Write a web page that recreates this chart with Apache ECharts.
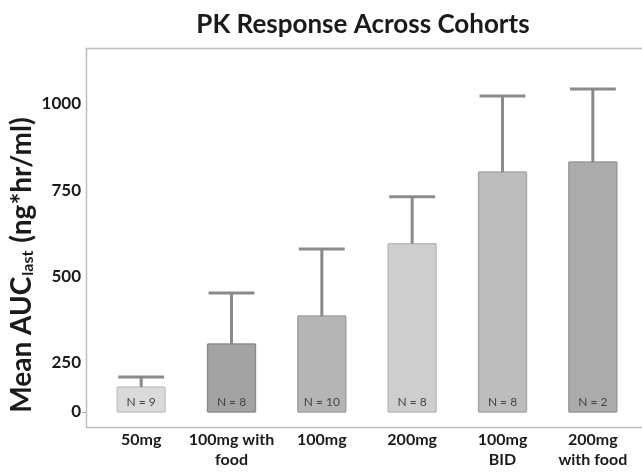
<!DOCTYPE html>
<html>
<head>
<meta charset="utf-8">
<title>PK Response Across Cohorts</title>
<script src="https://cdn.jsdelivr.net/npm/echarts@6/dist/echarts.min.js"></script>
<style>
  html, body { margin: 0; padding: 0; background: #fff; }
  #chart { width: 642px; height: 472px; }
</style>
</head>
<body>
<div id="chart"></div>
<script>
// cohort data (mean and mean + SD, ng*hr/ml)
const categories = ["50mg", "100mg with\nfood", "100mg", "200mg", "100mg\nBID", "200mg\nwith food"];
const meanAUC = [127, 305, 386, 595, 803, 832];
const upperSD = [178, 453, 580, 731, 1023, 1043];
const nSubjects = [9, 8, 10, 8, 8, 2];
const lowerTicks = [0];
const upperTicks = [250, 500, 750, 1000];
// the y axis is broken at 250: 0-250 is squeezed, 250 and up is linear
const axisBreak = 250;

const barColors = ["#dadada", "#a3a3a3", "#b5b5b5", "#cecece", "#bdbdbd", "#ababab"];
const edgeColors = ["#c6c6c6", "#8b8b8b", "#a0a0a0", "#bababa", "#a8a8a8", "#979797"];
const errColor = "#8a8a8a";
const FONT = "Lato, 'Open Sans', sans-serif";
const BAR_RATIO = 0.53;

const chart = echarts.init(document.getElementById("chart"));

const rows = categories.map((c, i) => [i, meanAUC[i], upperSD[i], nSubjects[i]]);

function makeRender(lo, hi, isLower) {
  return function (params, api) {
    const i = api.value(0);
    const mean = api.value(1);
    const upper = api.value(2);
    const n = api.value(3);
    const idx = params.dataIndex;
    const halfW = api.size([1, 0])[0] * BAR_RATIO / 2;
    const cx = api.coord([i, hi])[0];
    const L = cx - halfW, R = cx + halfW;
    const children = [];

    const from = Math.max(0, lo), to = Math.min(mean, hi);
    if (to > from) {
      const yTop = api.coord([i, to])[1];
      const yBot = api.coord([i, from])[1];
      children.push({
        type: "rect",
        shape: { x: L, y: yTop, width: R - L, height: yBot - yTop },
        style: { fill: barColors[idx] }
      });
      const edge = { stroke: edgeColors[idx], lineWidth: 1.5 };
      children.push({ type: "line", shape: { x1: L, y1: yTop, x2: L, y2: yBot }, style: edge });
      children.push({ type: "line", shape: { x1: R, y1: yTop, x2: R, y2: yBot }, style: edge });
      if (mean <= hi) {
        children.push({ type: "line", shape: { x1: L, y1: yTop, x2: R, y2: yTop }, style: edge });
      }
      if (isLower) {
        children.push({ type: "line", shape: { x1: L, y1: yBot, x2: R, y2: yBot }, style: edge });
      }
    }

    const eFrom = Math.max(mean, lo), eTo = Math.min(upper, hi);
    if (eTo > eFrom) {
      const y1 = api.coord([i, eFrom])[1];
      const y2 = api.coord([i, eTo])[1];
      children.push({
        type: "line",
        shape: { x1: cx, y1: y1, x2: cx, y2: y2 },
        style: { stroke: errColor, lineWidth: 3 }
      });
    }
    if (upper > lo && upper <= hi) {
      const yc = api.coord([i, upper])[1];
      children.push({
        type: "line",
        shape: { x1: L + 1, y1: yc, x2: R - 1, y2: yc },
        style: { stroke: errColor, lineWidth: 3 }
      });
    }

    if (isLower) {
      const y0 = api.coord([i, 0])[1];
      children.push({
        type: "text",
        x: cx,
        y: y0 - 10,
        style: {
          text: "N = " + n,
          fill: "#444444",
          font: "12px " + FONT,
          align: "center",
          verticalAlign: "middle"
        }
      });
    }
    return { type: "group", children: children };
  };
}

const UPPER_MAX = 1162;
const LOWER_MIN = -76.5;

const yLabel = {
  margin: 5,
  fontFamily: FONT,
  fontWeight: "bold",
  fontSize: 17,
  color: "#1a1a1a",
  formatter: v => String(v)
};

chart.setOption({
  backgroundColor: "#ffffff",
  animation: false,
  title: {
    text: "PK Response Across Cohorts",
    left: 358,
    top: 7,
    textAlign: "center",
    textStyle: { fontFamily: FONT, fontWeight: "bold", fontSize: 26, color: "#1a1a1a" }
  },
  grid: [
    // upper part of the broken axis
    { left: 96, right: 4, top: 48, bottom: 109 },
    // lower (squeezed) part
    { left: 96, right: 4, top: 363, bottom: 45 }
  ],
  xAxis: [
    { type: "category", gridIndex: 0, data: categories, show: false },
    {
      type: "category",
      gridIndex: 1,
      data: categories,
      axisLine: { show: false },
      axisTick: { show: false },
      axisLabel: {
        margin: 3,
        lineHeight: 20,
        fontFamily: FONT,
        fontWeight: "bold",
        fontSize: 16,
        color: "#1a1a1a",
        interval: 0
      }
    }
  ],
  yAxis: [
    {
      type: "value",
      gridIndex: 0,
      min: axisBreak,
      max: UPPER_MAX,
      offset: 10,
      splitLine: { show: false },
      axisLine: { show: false },
      axisTick: { show: false },
      axisLabel: Object.assign({ customValues: upperTicks }, yLabel)
    },
    {
      type: "value",
      gridIndex: 1,
      min: LOWER_MIN,
      max: axisBreak,
      offset: 10,
      splitLine: { show: false },
      axisLine: { show: false },
      axisTick: { show: true, length: 4, customValues: lowerTicks, lineStyle: { color: "#aaaaaa" } },
      axisLabel: Object.assign({ customValues: lowerTicks }, yLabel)
    }
  ],
  graphic: [
    {
      // plot frame: top, left and bottom edges (open to the right)
      type: "polyline",
      silent: true,
      shape: { points: [[642, 48.5], [86.5, 48.5], [86.5, 427.5], [642, 427.5]] },
      style: { stroke: "#bdbdbd", lineWidth: 1.5, fill: null }
    },
    {
      type: "text",
      x: 22,
      y: 265,
      rotation: Math.PI / 2,
      style: {
        text: "{m|Mean AUC}{s|last}{m| (ng*hr/ml)}",
        align: "center",
        verticalAlign: "middle",
        fill: "#1a1a1a",
        rich: {
          m: { fontFamily: FONT, fontWeight: "bold", fontSize: 28, fill: "#1a1a1a" },
          s: { fontFamily: FONT, fontWeight: "bold", fontSize: 16, fill: "#1a1a1a", verticalAlign: "bottom", padding: [10, 1, 0, 1] }
        }
      }
    }
  ],
  series: [
    {
      type: "custom",
      name: "upper",
      xAxisIndex: 0,
      yAxisIndex: 0,
      data: rows,
      encode: { x: 0, y: 1 },
      renderItem: makeRender(axisBreak, UPPER_MAX, false)
    },
    {
      type: "custom",
      name: "lower",
      xAxisIndex: 1,
      yAxisIndex: 1,
      data: rows,
      encode: { x: 0, y: 1 },
      renderItem: makeRender(LOWER_MIN, axisBreak, true)
    }
  ]
});
</script>
</body>
</html>
